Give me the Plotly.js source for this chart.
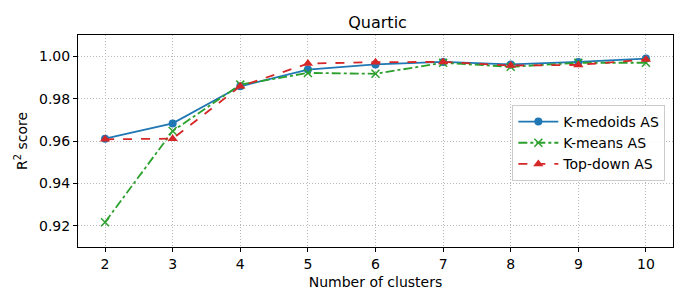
<!DOCTYPE html>
<html><head><meta charset="utf-8">
<script src="https://cdn.plot.ly/plotly-3.0.1.min.js"></script>
<style>body{margin:0;padding:0;background:#fff}#chart{width:689px;height:302px}</style>
</head><body><div id="chart"></div>
<script>
const clusters = [2, 3, 4, 5, 6, 7, 8, 9, 10];
const kmedoids = [0.9611, 0.9683, 0.9858, 0.9937, 0.9961, 0.9973, 0.9961, 0.9973, 0.9989];
const kmeans   = [0.9217, 0.9647, 0.9866, 0.9921, 0.9917, 0.9969, 0.9950, 0.9969, 0.9969];
const topdown  = [0.9608, 0.9611, 0.9858, 0.9965, 0.9972, 0.9973, 0.9956, 0.9959, 0.9984];
const yTicks = [0.92, 0.94, 0.96, 0.98, 1.00];
const yTickText = ['0.92', '0.94', '0.96', '0.98', '1.00'];

const traces = [
  {x: clusters, y: kmedoids, name: 'K-medoids AS', mode: 'lines+markers',
   line: {color: '#1f77b4', width: 1.8, dash: 'solid'},
   marker: {symbol: 'circle', size: 8, color: '#1f77b4'}},
  {x: clusters, y: kmeans, name: 'K-means AS', mode: 'lines+markers',
   line: {color: '#2ca02c', width: 1.8, dash: 'dashdot'},
   marker: {symbol: 'x-thin', size: 8, color: '#2ca02c', line: {color: '#2ca02c', width: 1.5}}},
  {x: clusters, y: topdown, name: 'Top-down AS', mode: 'lines+markers',
   line: {color: '#d62728', width: 1.8, dash: 'dash'},
   marker: {symbol: 'triangle-up', size: 9, color: '#d62728'}}
];

const axisCommon = {
  showline: true, mirror: true, linecolor: '#000', linewidth: 1,
  ticks: 'outside', ticklen: 4, tickcolor: '#000',
  showgrid: true, gridcolor: '#b8b8b8', griddash: '1px,2px', gridwidth: 1,
  zeroline: false, tickfont: {size: 14, color: '#000'}
};

const layout = {
  width: 689, height: 302,
  margin: {l: 78, r: 16, t: 35, b: 55},
  paper_bgcolor: '#fff', plot_bgcolor: '#fff',
  font: {family: 'DejaVu Sans, sans-serif', color: '#000'},
  title: {text: 'Quartic', font: {size: 16}, x: 0.548, xanchor: 'center', y: 0.927, yanchor: 'middle'},
  xaxis: Object.assign({}, axisCommon, {
    range: [1.6, 10.4], tickvals: clusters, ticktext: clusters.map(String),
    title: {text: 'Number of clusters', font: {size: 14}, standoff: 6}
  }),
  yaxis: Object.assign({}, axisCommon, {
    range: [0.91, 1.01], tickvals: yTicks, ticktext: yTickText,
    title: {text: 'R<sup>2</sup> score', font: {size: 14}, standoff: 8}
  }),
  legend: {x: 0.73, y: 0.67, xanchor: 'left', yanchor: 'top',
    bgcolor: 'rgba(255,255,255,0.85)', bordercolor: '#ccc', borderwidth: 1,
    font: {size: 14}, tracegroupgap: 0, itemwidth: 40},
  showlegend: true
};

Plotly.newPlot('chart', traces, layout, {displayModeBar: false, staticPlot: true});
</script></body></html>
